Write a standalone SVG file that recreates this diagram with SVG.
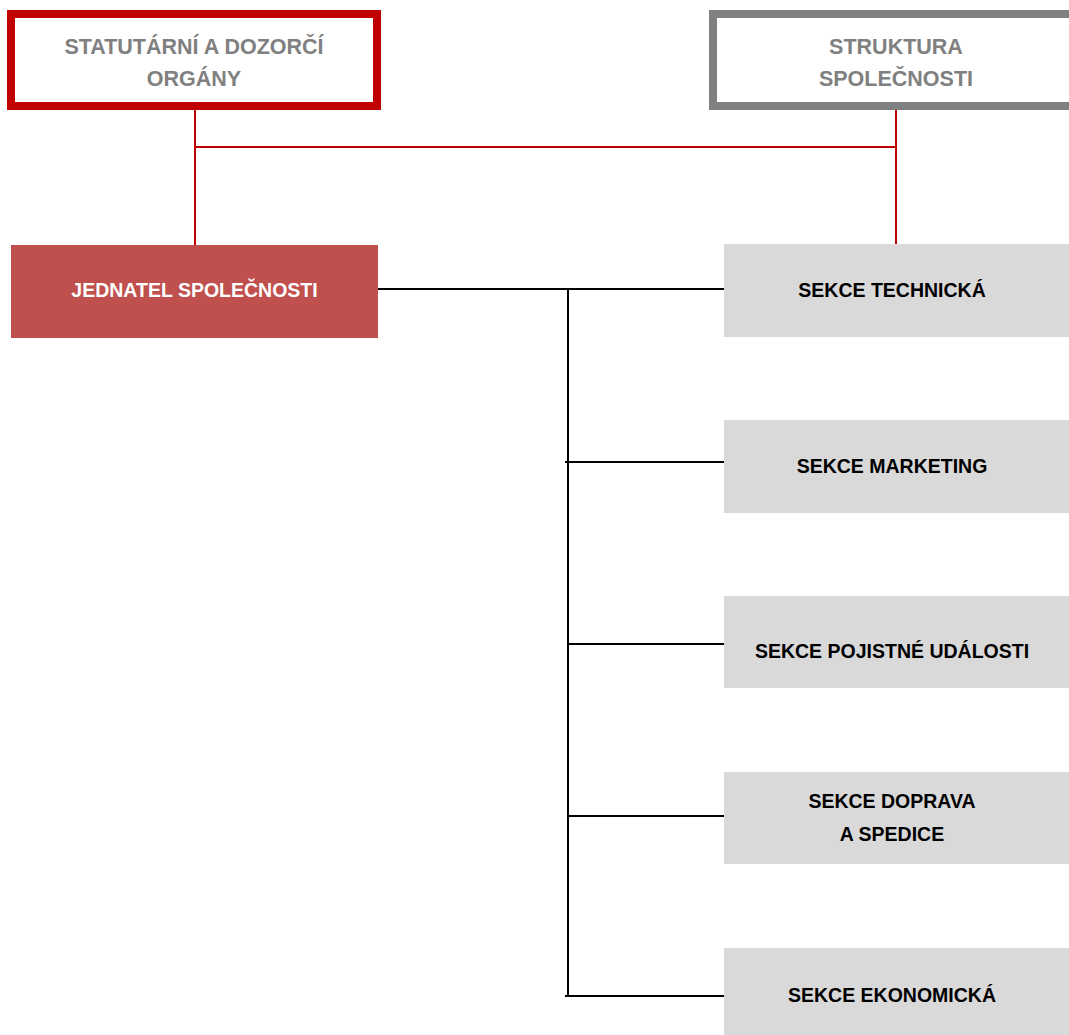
<svg xmlns="http://www.w3.org/2000/svg" width="1069" height="1035" viewBox="0 0 1069 1035">
<style>
.top{fill:#fff;stroke-width:8}
.tt{font-family:"Liberation Sans",Arial,sans-serif;font-weight:bold;font-size:21.5px;fill:#808080;text-anchor:middle}
.sec{fill:#d9d9d9}
.st{font-family:"Liberation Sans",Arial,sans-serif;font-weight:bold;font-size:19.5px;fill:#000;text-anchor:middle}
.red{stroke:#c00000;stroke-width:2;fill:none}
.blk{stroke:#000;stroke-width:2;fill:none}
</style>
<rect width="1069" height="1035" fill="#fff"/>
<g id="connectors">
<path class="red" d="M195 110V245M896 104V245M195 147H896"/>
<path class="blk" d="M378 289H724M568 289V996M565 462H724M568 644H724M568 816H727M565 996H724"/>
</g>
<g id="statutarni">
<rect class="top" x="11" y="14" width="366" height="92" stroke="#c00000"/>
<text class="tt" x="194" y="54">STATUTÁRNÍ A DOZORČÍ</text>
<text class="tt" x="194" y="86">ORGÁNY</text>
</g>
<g id="struktura">
<rect class="top" x="713" y="14" width="380" height="92" stroke="#808080"/>
<text class="tt" x="896" y="54">STRUKTURA</text>
<text class="tt" x="896" y="86">SPOLEČNOSTI</text>
</g>
<g id="jednatel">
<rect x="11" y="245" width="367" height="93" fill="#c0504d"/>
<text class="st" x="194.5" y="297" style="fill:#fff">JEDNATEL SPOLEČNOSTI</text>
</g>
<g id="technicka">
<rect class="sec" x="724" y="244" width="345" height="93"/>
<text class="st" x="892" y="297">SEKCE TECHNICKÁ</text>
</g>
<g id="marketing">
<rect class="sec" x="724" y="420" width="345" height="93"/>
<text class="st" x="892" y="473">SEKCE MARKETING</text>
</g>
<g id="pojistne">
<rect class="sec" x="724" y="596" width="345" height="92"/>
<text class="st" x="892" y="658">SEKCE POJISTNÉ UDÁLOSTI</text>
</g>
<g id="doprava">
<rect class="sec" x="724" y="772" width="345" height="92"/>
<text class="st" x="892" y="808">SEKCE DOPRAVA</text>
<text class="st" x="892" y="841">A SPEDICE</text>
</g>
<g id="ekonomicka">
<rect class="sec" x="724" y="948" width="345" height="87"/>
<text class="st" x="892" y="1002">SEKCE EKONOMICKÁ</text>
</g>
</svg>
